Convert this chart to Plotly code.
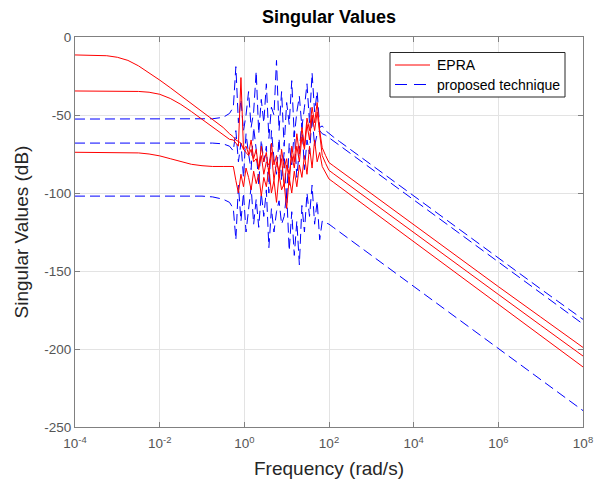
import plotly.graph_objects as go

# log10 of frequency (rad/s) at which the curves were read
freq_exp = [-4, -3.5, -3.25, -3.0, -2.75, -2.5, -2.25, -2.0, -1.75, -1.5, -1.25, -1.0, -0.75, -0.5, -0.35,
            -0.26, -0.20, -0.14, -0.08, -0.02, 0.04, 0.10, 0.16, 0.22, 0.28, 0.34, 0.40, 0.46, 0.52, 0.58,
            0.64, 0.70, 0.76, 0.82, 0.88, 0.94, 1.00, 1.06, 1.12, 1.18, 1.24, 1.30, 1.36, 1.42, 1.48,
            1.54, 1.60, 1.66, 1.72, 1.78, 1.84,
            1.92, 2.0, 2.1, 2.25, 2.5, 3, 4, 5, 6, 7, 8]

epra_1 = [-11.5, -11.7, -12.0, -13.0, -15.0, -18.5, -22.8, -27.6, -32.5, -37.5, -42.5, -47.5, -52.5, -58.0, -62.0,
          -64, -66, -67, -68, -72, -70, -75, -66, -78, -72, -85, -70, -80, -74, -88,
          -68, -82, -76, -90, -72, -84, -78, -95, -70, -80, -62, -75, -58, -70, -52,
          -60, -45, -55, -42, -60, -71,
          -76, -80.5, -82.5, -85.5, -90.5, -100.5, -120.5, -140.2, -160, -179.5, -199]
epra_2 = [-34.6, -34.6, -34.6, -34.6, -34.7, -34.9, -35.4, -36.7, -39.4, -43.2, -47.8, -52.7, -57.6, -62.6, -65.6,
          -66, -68, -70, -26, -72, -74, -76, -72, -80, -78, -84, -76, -88, -80, -82,
          -74, -92, -80, -86, -78, -96, -82, -88, -76, -84, -70, -80, -64, -72, -56,
          -66, -50, -60, -48, -64, -76,
          -81, -85.5, -87.5, -90.5, -95.5, -105.5, -125.5, -145.3, -165, -184.8, -204.5]
epra_3 = [-73.9, -73.9, -73.9, -73.9, -73.9, -74.3, -75.0, -76.2, -78.0, -80.0, -81.6, -82.5, -83.0, -83.0, -83.0,
          -83, -92, -100, -88, -96, -84, -90, -98, -86, -94, -88, -102, -90, -96, -84,
          -100, -92, -106, -88, -98, -94, -110, -90, -100, -86, -96, -82, -90, -76, -88,
          -70, -84, -66, -80, -74, -83,
          -87, -91, -93, -96, -101, -111, -131, -151, -171, -191.3, -211.5]

prop_1 = [-52.6, -52.6, -52.6, -52.6, -52.6, -52.6, -52.6, -52.6, -52.6, -52.6, -52.6, -52.6, -52.4, -51.5, -49,
          -45, -19, -55, -40, -60, -50, -35, -58, -48, -22, -62, -40, -55, -30, -65,
          -45, -50, -15, -60, -35, -70, -42, -56, -28, -64, -48, -38, -58, -45, -30,
          -55, -23, -48, -35, -58, -57,
          -60, -62, -64, -67, -72, -82, -102, -122, -142, -161.5, -181]
prop_2 = [-68, -68, -68, -68, -68, -68, -68, -68, -68, -68, -68, -68, -68, -68.5, -70,
          -73, -60, -80, -68, -90, -62, -75, -85, -58, -72, -95, -66, -80, -70, -100,
          -60, -78, -88, -65, -92, -74, -105, -68, -82, -60, -90, -72, -55, -85, -66,
          -75, -50, -70, -62, -60, -62,
          -63, -64.5, -66.5, -69.5, -74.5, -84.5, -104.5, -124.5, -144.3, -164, -184]
prop_3 = [-102, -102, -102, -102, -102, -102, -102, -102, -102, -102, -102, -102, -102.5, -104, -106,
          -110, -130, -95, -118, -100, -125, -108, -96, -120, -104, -122, -100, -115, -98, -135,
          -110, -125, -112, -105, -120, -115, -100, -137, -112, -140, -118, -146, -108, -125, -100,
          -115, -95, -120, -105, -130, -118,
          -119, -120, -122, -125, -130, -140, -160, -180, -200, -220, -239.5]

x_tick_vals = [1e-4, 1e-2, 1e0, 1e2, 1e4, 1e6, 1e8]
x_tick_text = ["10<sup>-4</sup>", "10<sup>-2</sup>", "10<sup>0</sup>", "10<sup>2</sup>",
               "10<sup>4</sup>", "10<sup>6</sup>", "10<sup>8</sup>"]
y_tick_vals = [0, -50, -100, -150, -200, -250]
y_tick_text = ["0", "-50", "-100", "-150", "-200", "-250"]
legend_names = ["EPRA", "proposed technique"]

freq = [10 ** e for e in freq_exp]

RED = "#FF0000"
BLUE = "#0000FF"
FONT = "Liberation Sans, Arial, sans-serif"
W, H = 595, 484
L, R, T, B = 75, 12, 37, 57
PW, PH = W - L - R, H - T - B


def px(x):
    return (x - L) / PW


def py(y):
    return 1 - (y - T) / PH


fig = go.Figure()
for i, ys in enumerate([prop_1, prop_2, prop_3]):
    fig.add_trace(go.Scatter(x=freq, y=ys, mode="lines", name=legend_names[1],
                             line=dict(color=BLUE, width=1, dash="10px,5px"),
                             showlegend=False))
for i, ys in enumerate([epra_1, epra_2, epra_3]):
    fig.add_trace(go.Scatter(x=freq, y=ys, mode="lines", name=legend_names[0],
                             line=dict(color=RED, width=1),
                             showlegend=False))

axis_common = dict(showline=True, linecolor="#808080", linewidth=1, mirror="ticks",
                   ticks="inside", ticklen=5, tickcolor="#808080",
                   showgrid=True, gridcolor="#E3E3E3", gridwidth=1, zeroline=False,
                   automargin=False, ticklabeloverflow="allow",
                   tickfont=dict(family=FONT, size=13.5, color="#555555"))

fig.update_xaxes(type="log", range=[-4, 8], tickvals=x_tick_vals, ticktext=x_tick_text,
                 ticklabelstandoff=4,
                 title=dict(text="Frequency (rad/s)", font=dict(family=FONT, size=19, color="#262626"), standoff=11),
                 **axis_common)
fig.update_yaxes(range=[-250, 0], tickvals=y_tick_vals, ticktext=y_tick_text,
                 title=dict(text="Singular Values (dB)", font=dict(family=FONT, size=19, color="#262626"), standoff=10),
                 **axis_common)

# legend box drawn in the MATLAB style
fig.add_shape(type="rect", xref="paper", yref="paper", x0=px(390), x1=px(565), y0=py(97), y1=py(52.5),
              line=dict(color="#262626", width=1), fillcolor="white", layer="above")
fig.add_shape(type="line", xref="paper", yref="paper", x0=px(395), x1=px(430), y0=py(65), y1=py(65),
              line=dict(color=RED, width=1), layer="above")
fig.add_shape(type="line", xref="paper", yref="paper", x0=px(395), x1=px(433), y0=py(84.5), y1=py(84.5),
              line=dict(color=BLUE, width=1, dash="12px,7px"), layer="above")
for name, yy in zip(legend_names, [65, 84.5]):
    fig.add_annotation(xref="paper", yref="paper", x=px(435), y=py(yy), text=name, showarrow=False,
                       xanchor="left", yanchor="middle", font=dict(family=FONT, size=14, color="#000000"))

fig.update_layout(
    width=W, height=H,
    margin=dict(l=L, r=R, t=T, b=B),
    paper_bgcolor="white", plot_bgcolor="white",
    showlegend=False,
    title=dict(text="<b>Singular Values</b>", x=0.5, xanchor="center", xref="paper",
               y=1 - 17 / H, yref="container", yanchor="middle",
               font=dict(family=FONT, size=18, color="#000000")),
    font=dict(family=FONT),
)

fig.write_html("out.html", config={"displayModeBar": False},
               post_script="document.body.style.margin='0';document.documentElement.style.overflow='hidden';")
